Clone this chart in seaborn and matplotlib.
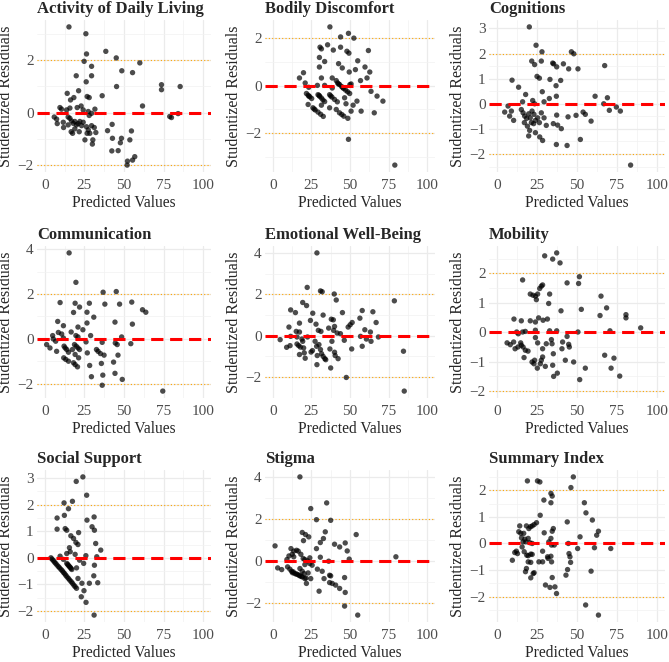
import numpy as np
import pandas as pd
import seaborn as sns
import matplotlib.pyplot as plt
from matplotlib.ticker import MultipleLocator

# --- Data (predicted value, studentized residual) ---
adl_x = [15.2, 25.9, 26.3, 38.5, 45.1, 24.8, 29.5, 60.0, 48.6, 55.4, 19.8, 29.5, 26.1, 73.7, 73.7, 85.5,
         45.3, 21.3, 14.1, 36.2, 26.7, 28.0, 16.2, 18.3, 61.7, 22.9, 20.4, 9.5, 10.5, 13.7, 15.8, 24.2,
         27.4, 31.6, 29.5, 28.0, 5.9, 7.4, 7.8, 11.6, 14.7, 15.8, 16.8, 17.9, 18.9, 20.0, 21.0, 22.1,
         23.2, 24.2, 11.8, 14.7, 16.6, 17.5, 18.9, 21.7, 26.3, 27.4, 28.4, 29.5, 31.2, 32.2, 26.7, 25.3,
         30.3, 30.0, 39.6, 42.5, 42.7, 42.3, 46.3, 48.4, 47.7, 53.7, 54.7, 52.2, 52.0, 55.4, 56.8, 78.9,
         80.0, 84.2]
adl_y = [3.26, 3.0, 2.23, 2.33, 2.08, 1.95, 1.76, 1.89, 1.59, 1.52, 1.40, 1.40, 1.17, 1.06, 0.87, 0.99,
         0.99, 0.83, 0.73, 0.64, 0.61, 0.57, 0.48, 0.57, 0.25, 0.25, 0.19, 0.19, 0.13, 0.10, 0.17, 0.10,
         0.04, 0.13, -0.03, -0.11, -0.17, -0.25, -0.42, -0.37, -0.17, -0.22, -0.32, -0.41, -0.34, -0.47, -0.42, -0.34,
         -0.50, -0.37, -0.57, -0.47, -0.73, -0.79, -0.62, -0.73, -0.54, -0.66, -0.79, -0.50, -0.57, -0.76, -0.79, -1.04,
         -1.04, -1.20, -0.69, -0.45, -0.98, -1.46, -1.45, -0.98, -1.15, -1.04, -0.70, -1.85, -2.0, -1.81, -1.68, -0.15,
         -0.19, -0.04]

bod_x = [37.0, 43.9, 49.0, 52.5, 30.6, 31.5, 35.5, 39.2, 43.9, 48.0, 49.3, 61.9, 30.2, 33.6, 55.0, 42.6,
         45.0, 30.2, 49.5, 53.5, 59.7, 62.8, 17.3, 19.9, 21.0, 23.3, 31.5, 38.5, 33.6, 28.9, 41.1, 56.8,
         61.0, 50.7, 63.6, 67.5, 71.3, 57.2, 65.7, 49.0, 79.0, 21.8, 22.9, 24.0, 25.2, 29.3, 30.4, 31.5,
         32.5, 33.6, 26.0, 27.5, 29.3, 31.0, 32.7, 36.8, 38.3, 40.0, 41.8, 42.0, 43.3, 44.6, 45.9, 47.2,
         48.5, 49.8, 43.2, 44.7, 46.0, 38.5, 22.9, 31.5, 36.8, 41.1, 48.6, 50.7, 52.0, 47.4, 54.5, 46.5,
         49.9, 23.4, 30.0, 26.8, 37.5, 42.6, 45.3]
bod_y = [2.46, 2.04, 2.19, 1.99, 1.61, 1.54, 1.71, 1.49, 1.61, 1.44, 1.36, 1.47, 1.18, 1.01, 1.04, 0.92,
         0.74, 0.78, 0.57, 0.67, 0.78, 0.57, 0.32, 0.54, 0.11, -0.07, 0.32, 0.32, 0.01, 0.01, 0.21, 0.21,
         0.32, 0.07, -0.24, -0.44, -0.65, -1.07, -1.14, -2.25, -3.33, -0.33, -0.40, -0.47, -0.54, -0.38, -0.45, -0.52,
         -0.60, -0.67, -0.93, -1.02, -1.11, -1.20, -1.29, -0.38, -0.48, -0.58, -0.68, 0.11, 0.04, -0.04, -0.12, -0.19,
         -0.26, -0.33, -1.14, -1.21, -1.28, -0.10, -0.79, -0.82, -0.93, -1.0, -1.37, -1.07, -0.82, -0.76, -0.65, -0.51,
         0.04, -0.44, -0.41, -0.98, -0.43, 0.07, -0.08]

cog_x = [20.2, 24.4, 28.1, 46.5, 48.0, 21.7, 23.5, 27.7, 34.8, 35.4, 37.3, 41.5, 44.8, 50.6, 67.3, 25.0,
         26.5, 33.1, 39.8, 9.4, 13.5, 36.9, 28.3, 17.9, 37.1, 61.3, 69.0, 32.7, 22.3, 16.0, 29.4, 23.5,
         66.7, 4.8, 6.9, 7.9, 9.0, 10.4, 15.2, 16.3, 17.3, 18.5, 19.8, 20.8, 21.9, 23.1, 24.0, 25.4,
         26.5, 27.7, 29.4, 30.8, 35.2, 17.1, 19.0, 21.5, 22.9, 20.4, 24.0, 26.7, 28.5, 19.8, 37.3, 40.2,
         37.9, 37.1, 43.8, 52.1, 44.4, 49.4, 53.8, 55.2, 58.8, 70.2, 74.6, 77.1, 83.5]
cog_y = [3.06, 2.33, 2.07, 2.07, 1.99, 1.70, 1.56, 1.70, 1.62, 1.59, 1.47, 1.59, 1.39, 1.39, 1.52, 1.09,
         1.02, 0.97, 0.93, 0.94, 0.66, 0.72, 0.48, 0.37, 0.30, 0.30, 0.24, 0.21, 0.13, 0.08, 0.08, 0.0,
         0.0, -0.33, -0.09, -0.49, -0.29, -0.66, -0.23, -0.36, -0.49, -0.58, -0.40, -0.56, -0.29, -0.42, -0.66, -0.56,
         -0.75, -0.36, -0.56, -0.86, -0.79, -0.75, -0.89, -0.75, -0.79, -1.06, -1.15, -1.32, -1.46, -1.28, -0.45, -0.99,
         -0.85, -1.62, -1.66, -1.42, -0.52, -0.46, -0.33, -0.42, -0.69, -0.26, -0.13, -0.29, -2.44]

com_x = [15.3, 19.6, 36.8, 45.1, 9.6, 19.1, 28.1, 37.9, 47.2, 54.9, 61.7, 63.8, 18.1, 21.9, 26.6, 30.9,
         8.1, 11.7, 20.9, 24.0, 26.6, 44.3, 55.3, 8.5, 10.6, 16.6, 19.6, 20.9, 28.9, 48.5, 4.9, 1.1,
         3.2, 5.3, 6.8, 7.4, 11.7, 12.1, 12.8, 13.8, 14.9, 11.9, 13.2, 14.9, 17.4, 18.7, 19.8, 20.9,
         21.9, 19.1, 21.3, 18.1, 19.1, 20.6, 26.0, 26.8, 28.3, 29.4, 32.6, 33.6, 35.1, 36.2, 37.4, 35.7,
         36.6, 36.2, 43.4, 44.3, 44.5, 45.7, 46.2, 48.9, 54.3, 74.5]
com_y = [3.83, 2.52, 2.08, 2.11, 1.62, 1.59, 1.59, 1.55, 1.55, 1.64, 1.30, 1.19, 1.18, 1.42, 1.19, 0.97,
         0.78, 0.59, 0.53, 0.41, 0.71, 0.75, 0.66, 0.29, 0.22, 0.31, 0.15, 0.09, 0.15, 0.09, 0.15, -0.25,
         -0.40, 0.0, -0.10, -0.55, 0.04, -0.32, -0.40, -0.47, -0.59, -0.84, -0.91, -0.99, -0.47, -0.25, -0.32, -0.40,
         -0.47, -0.69, -0.84, -1.06, -1.14, -1.24, -0.13, -0.62, -1.18, -1.68, -0.47, -0.55, -0.65, -0.15, -0.72, -1.09,
         -1.61, -2.06, -1.03, -1.53, -0.18, -0.25, -0.72, -1.80, -0.21, -2.32]

emo_x = [28.6, 22.3, 30.9, 32.0, 39.8, 41.1, 78.7, 19.4, 21.9, 11.6, 14.7, 25.9, 32.6, 45.1, 57.9, 64.8,
         37.9, 39.2, 56.4, 24.4, 17.3, 28.0, 51.4, 50.1, 66.9, 40.0, 48.8, 10.5, 36.2, 29.5, 31.2, 39.4,
         59.6, 63.2, 43.8, 15.2, 17.3, 4.8, 9.0, 11.2, 11.6, 15.7, 15.7, 16.8, 17.9, 18.9, 20.0, 19.4,
         17.3, 20.4, 21.0, 22.5, 24.8, 25.7, 27.4, 28.4, 29.9, 28.8, 30.9, 31.6, 32.6, 33.7, 34.3, 28.6,
         37.0, 38.3, 40.0, 40.4, 42.3, 37.5, 41.7, 46.3, 51.1, 47.6, 56.8, 57.9, 60.6, 63.6, 68.4, 84.6,
         85.1]
emo_y = [4.01, 2.34, 2.17, 2.13, 2.02, 1.73, 1.69, 1.61, 1.46, 1.25, 1.12, 1.09, 1.00, 1.12, 1.22, 1.16,
         0.80, 0.77, 0.85, 0.74, 0.61, 0.56, 0.64, 0.53, 0.64, 0.45, 0.42, 0.42, 0.37, 0.26, 0.21, 0.26,
         0.29, 0.18, 0.10, 0.21, 0.18, -0.19, -0.56, -0.48, -0.03, -0.06, -0.40, -0.48, -0.55, -0.16, -0.59, -0.27,
         -0.91, -0.83, -1.09, -0.06, -0.79, -0.72, -0.27, -0.51, -0.43, -0.96, -0.67, -0.87, -1.0, -1.11, -1.16, -1.40,
         -0.64, -0.27, -0.80, -0.96, -1.11, -1.56, 0.13, -0.22, -0.64, -2.02, -0.03, -0.51, -0.16, -0.27, -0.06, -0.75,
         -2.68]

mob_x = [37.3, 29.8, 34.8, 39.4, 51.5, 51.0, 43.8, 16.0, 28.5, 27.7, 26.7, 20.8, 22.5, 24.0, 25.4, 32.9,
         24.6, 32.3, 65.0, 68.5, 52.7, 40.0, 80.6, 80.6, 64.4, 10.6, 15.2, 20.8, 24.0, 26.0, 28.8, 31.5,
         24.0, 16.0, 12.3, 13.3, 17.7, 32.9, 37.3, 50.6, 70.6, 89.8, 6.3, 8.3, 10.4, 11.3, 13.1, 14.8,
         15.2, 16.3, 17.7, 16.9, 19.4, 21.9, 23.1, 23.5, 25.2, 24.0, 25.4, 27.1, 27.7, 28.5, 30.2, 28.5,
         30.8, 34.0, 34.4, 35.2, 34.8, 35.4, 37.7, 40.6, 41.0, 43.8, 44.8, 45.2, 42.7, 47.9, 51.7, 55.2,
         67.3, 71.3, 73.1, 76.7]
mob_y = [2.70, 2.60, 2.49, 2.36, 1.89, 1.66, 1.68, 1.78, 1.61, 1.57, 1.49, 1.30, 1.26, 1.23, 1.30, 1.30,
         1.11, 0.98, 1.23, 0.83, 0.78, 0.73, 0.60, 0.49, 0.57, 0.45, 0.39, 0.39, 0.35, 0.49, 0.41, 0.45,
         0.07, 0.01, 0.01, -0.05, 0.03, 0.05, 0.05, 0.01, 0.05, 0.15, -0.36, -0.42, -0.33, -0.56, -0.50, -0.36,
         -0.44, -0.50, -0.61, -0.86, -0.64, -1.01, -1.07, -0.95, -1.22, -0.18, -0.36, -1.07, -0.95, -0.84, -1.16, -0.56,
         -0.39, -0.25, -0.39, -0.73, -1.12, -1.50, -1.39, -0.56, -0.33, -0.14, -0.41, -0.50, -0.95, -1.01, -1.61, -1.22,
         -0.78, -1.22, -0.88, -1.49]

# the long diagonal band in this panel is many overlapping points
soc_x = [24.0, 19.8, 26.4, 12.1, 17.4, 14.9, 7.7, 12.3, 31.1, 26.6, 29.8, 31.3, 7.7, 12.8, 13.8, 21.3,
         16.4, 18.1, 19.6, 20.9, 32.1, 15.5, 13.8, 16.0, 19.1, 25.9, 35.3, 32.8, 9.6, 11.7, 3.8, 4.5,
         5.3, 6.0, 6.8, 7.6, 8.5, 9.3, 10.2, 11.0, 11.7, 12.5, 13.2, 14.0, 14.9, 15.7, 16.6, 17.4,
         18.3, 19.1, 20.0, 13.8, 14.4, 14.9, 15.5, 16.0, 16.5, 17.0, 20.0, 21.9, 24.5, 20.9, 23.4, 23.0,
         24.7, 26.0, 28.1, 30.9, 31.3, 33.4, 31.1]
soc_y = [3.05, 2.88, 2.36, 2.07, 2.13, 1.85, 1.50, 1.60, 1.54, 1.42, 1.17, 1.04, 1.08, 1.10, 1.04, 0.95,
         0.83, 0.73, 0.58, 0.50, 0.54, 0.38, 0.16, 0.23, 0.13, 0.08, 0.29, 0.04, 0.06, -0.06, 0.0, -0.05,
         -0.10, -0.16, -0.21, -0.27, -0.33, -0.38, -0.44, -0.49, -0.55, -0.60, -0.66, -0.72, -0.78, -0.84, -0.90, -0.96,
         -1.03, -1.09, -1.15, -0.21, -0.25, -0.29, -0.33, -0.36, -0.40, -0.44, -0.38, -0.09, -0.21, -0.78, -0.96, -1.47,
         -1.24, -1.68, -0.96, -0.68, -0.28, -0.94, -2.16]

stg_x = [17.6, 34.9, 24.6, 28.3, 37.5, 54.0, 19.1, 21.2, 23.3, 34.0, 32.8, 30.8, 19.9, 1.5, 28.3, 40.0,
         43.3, 46.9, 48.2, 49.5, 79.7, 30.8, 24.0, 3.2, 5.8, 9.2, 10.5, 11.8, 12.6, 13.6, 13.6, 15.4,
         16.5, 18.2, 19.7, 20.8, 22.5, 24.0, 25.5, 9.6, 11.1, 12.2, 13.3, 14.3, 16.0, 17.6, 19.1, 20.8,
         21.8, 22.9, 17.6, 19.1, 20.3, 20.8, 24.6, 28.9, 32.0, 30.0, 33.2, 36.2, 36.8, 37.5, 36.8, 38.5,
         40.7, 43.3, 46.5, 46.9, 46.5, 55.0, 12.8, 15.2, 17.0, 18.5, 21.5]
stg_y = [4.02, 2.78, 2.51, 1.98, 1.95, 1.27, 1.37, 1.27, 1.16, 1.40, 1.08, 0.89, 0.98, 0.73, 0.60, 0.81,
         0.68, 0.87, 0.49, 0.10, 0.21, 0.19, 0.16, -0.32, -0.40, 0.08, 0.25, 0.60, 0.33, 0.48, 0.21, 0.52,
         0.48, 0.33, 0.13, 0.08, 0.02, -0.11, -0.19, -0.27, -0.38, -0.48, -0.51, -0.59, -0.63, -0.70, -0.75, -0.83,
         -1.06, -0.56, -0.35, -0.48, -0.59, -0.16, -0.83, -0.38, -0.48, -1.43, -0.83, 0.0, -0.67, -0.70, -1.02, -1.06,
         -1.14, -1.30, -0.78, -1.49, -2.14, -2.57, -0.55, -0.61, -0.67, -0.72, -0.80]

sum_x = [19.0, 25.3, 26.8, 47.7, 46.2, 33.7, 34.5, 29.3, 33.7, 54.6, 55.6, 27.0, 59.6, 43.9, 63.4, 62.3,
         51.9, 35.2, 34.5, 29.5, 24.7, 23.2, 22.0, 20.9, 19.9, 18.4, 14.2, 13.6, 14.9, 16.7, 17.4, 18.0,
         19.5, 20.5, 22.0, 15.3, 16.3, 12.1, 11.1, 12.8, 9.6, 15.7, 17.0, 18.6, 19.5, 21.1, 22.0, 19.5,
         21.1, 26.2, 28.5, 28.5, 32.4, 33.7, 34.1, 33.7, 31.6, 31.9, 34.1, 35.8, 18.4, 17.8, 21.1, 22.6,
         23.2, 34.5, 30.3, 33.1, 36.2, 37.2, 43.1, 44.1, 44.6, 45.0, 45.6, 46.0, 50.4, 60.9, 71.1, 58.8,
         55.4, 63.4]
sum_y = [2.35, 2.35, 2.31, 2.50, 2.10, 1.88, 1.78, 1.63, 1.53, 1.53, 1.15, 1.06, 0.88, 0.81, 0.46, 0.31,
         0.25, 0.56, 0.46, 0.40, 0.78, 0.71, 0.66, 0.63, 0.56, 0.66, 0.66, 0.44, 0.38, 0.38, 0.16, 0.06,
         0.19, 0.03, 0.0, 0.21, 0.06, -0.29, -0.34, -0.38, -0.63, -0.13, -0.31, -0.44, -0.46, -0.40, -0.41, -0.69,
         -0.71, -0.69, -0.69, -0.29, 0.06, 0.19, -0.06, -0.48, -0.50, -0.56, -0.69, -0.06, -0.94, -1.06, -1.29, -1.13,
         -1.10, -1.28, -1.56, -1.65, -1.63, -1.88, -1.19, -0.98, 0.0, -0.38, -0.50, -0.71, -0.19, -0.16, -0.19, -1.04,
         -2.31, -2.69]

TITLES = ['Activity of Daily Living', 'Bodily Discomfort', 'Cognitions',
          'Communication', 'Emotional Well-Being', 'Mobility',
          'Social Support', 'Stigma', 'Summary Index']
XS = [adl_x, bod_x, cog_x, com_x, emo_x, mob_x, soc_x, stg_x, sum_x]
YS = [adl_y, bod_y, cog_y, com_y, emo_y, mob_y, soc_y, stg_y, sum_y]
Y_STEP = [2, 2, 1, 2, 2, 1, 1, 2, 1]

# --- Style ---
sns.set_style('white')
plt.rcParams['font.family'] = ['Liberation Serif', 'DejaVu Serif']

fig = plt.figure(figsize=(6.69, 6.62), dpi=100)
W, H = 669, 662
col_left = [37, 265, 489]
col_width = [174, 170, 176]
row_top = [20, 246, 470]
row_height = 152

for i, title in enumerate(TITLES):
    r, c = divmod(i, 3)
    ax = fig.add_axes([col_left[c] / W, 1 - (row_top[r] + row_height) / H,
                       col_width[c] / W, row_height / H])
    df = pd.DataFrame({'pred': XS[i], 'resid': YS[i]})

    ax.axhline(2, color='orange', lw=0.8, ls=(0, (1, 2)), zorder=1)
    ax.axhline(-2, color='orange', lw=0.8, ls=(0, (1, 2)), zorder=1)
    sns.scatterplot(data=df, x='pred', y='resid', ax=ax, color='black', alpha=0.7,
                    s=15, edgecolor='none', zorder=3)
    ax.axhline(0, color='red', lw=2.2, ls=(0, (4, 2.2)), zorder=4)

    lo = min(df['resid'].min(), -2)
    hi = max(df['resid'].max(), 2)
    pad = (hi - lo) * 0.05
    ax.set_ylim(lo - pad, hi + pad)
    ax.set_xlim(-5, 105)

    ax.xaxis.set_major_locator(MultipleLocator(25))
    ax.xaxis.set_minor_locator(MultipleLocator(12.5))
    ax.yaxis.set_major_locator(MultipleLocator(Y_STEP[i]))
    ax.yaxis.set_minor_locator(MultipleLocator(Y_STEP[i] / 2))
    ax.grid(which='major', color='#ebebeb', lw=0.9, zorder=0)
    ax.grid(which='minor', color='#f2f2f2', lw=0.5, zorder=0)
    ax.set_axisbelow(True)
    for s in ax.spines.values():
        s.set_visible(False)
    ax.tick_params(which='both', length=0, labelsize=11, labelcolor='#4d4d4d')
    ax.tick_params(axis='x', pad=5)
    ax.tick_params(axis='y', pad=2.5)

    ax.set_title(title, loc='left', fontweight='bold', fontsize=12, pad=5)
    ax.title.set_x(6 / col_width[c])
    ax.set_xlabel('Predicted Values', fontsize=11.2, labelpad=2)
    ax.set_ylabel('Studentized Residuals', fontsize=11.5, labelpad=2)

fig.savefig('out.png', dpi=100)
